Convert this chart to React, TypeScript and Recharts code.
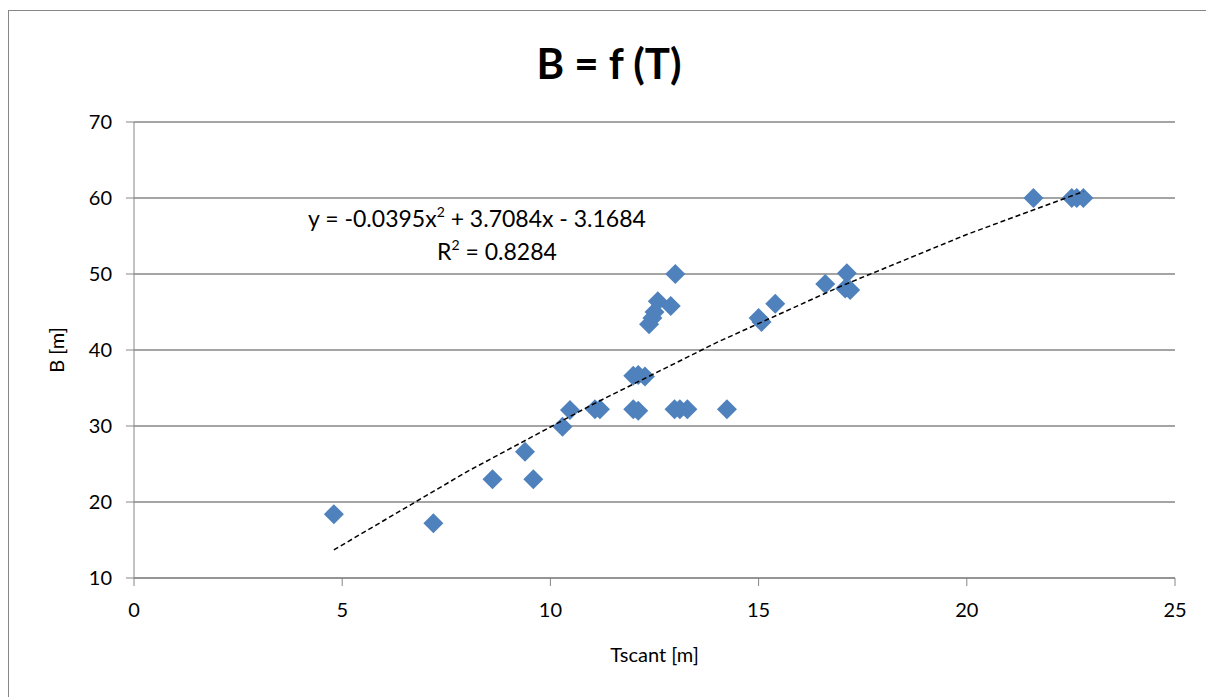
import { ScatterChart, Scatter, XAxis, YAxis, CartesianGrid } from 'recharts';

// Tscant [m] vs B [m]
const tscant = [
  4.8, 7.19, 8.61, 9.39, 9.59, 10.29, 10.47, 11.07, 11.19, 11.99, 12.11,
  12.98, 13.11, 13.29, 14.24, 11.99, 12.11, 12.27, 12.37, 12.45, 12.5, 12.58,
  12.89, 13.0, 15.0, 15.07, 15.4, 16.6, 17.08, 17.12, 17.2, 21.6, 22.52,
  22.64, 22.8,
];
const bWidth = [
  18.4, 17.2, 23.0, 26.6, 23.0, 29.9, 32.1, 32.2, 32.2, 32.2, 32.0,
  32.2, 32.2, 32.2, 32.2, 36.6, 36.7, 36.5, 43.4, 44.2, 45.0, 46.4,
  45.8, 50.0, 44.2, 43.7, 46.1, 48.7, 48.1, 50.1, 47.9, 60.0, 60.0,
  60.0, 60.0,
];

// dashed polynomial trendline
const trendX = [4.8, 8, 11, 14, 17, 20, 22.8];
const trendY = [13.7, 24.0, 32.8, 41.0, 48.45, 55.2, 60.85];

const xTicks = [0, 5, 10, 15, 20, 25];
const yTicks = [10, 20, 30, 40, 50, 60, 70];

const points = tscant.map((x, i) => ({ x, y: bWidth[i] }));
const trend = trendX.map((x, i) => ({ x, y: trendY[i] }));

const FONT = 'Lato, "Liberation Sans", sans-serif';
const AXIS = '#868686';

function Diamond(props: any) {
  const { cx, cy } = props;
  const r = 10;
  return (
    <polygon
      points={`${cx},${cy - r} ${cx + r},${cy} ${cx},${cy + r} ${cx - r},${cy}`}
      fill="#4F81BD"
    />
  );
}

const NoDot = () => <g />;

const supStyle = { fontSize: 14, verticalAlign: 'top', lineHeight: '20px' } as const;

export default function App() {
  return (
    <div
      style={{
        position: 'relative',
        marginTop: 2,
        width: 1200,
        height: 686,
        border: '1px solid #868686',
        background: '#fff',
        fontFamily: FONT,
      }}
    >
      <div
        style={{
          position: 'absolute',
          left: 0,
          right: 0,
          top: 27,
          textAlign: 'center',
          fontSize: 42,
          lineHeight: '50px',
          fontWeight: 700,
          color: '#000',
        }}
      >
        B = f (T)
      </div>
      <div
        style={{
          position: 'absolute',
          left: 0,
          width: 936,
          top: 191,
          textAlign: 'center',
          fontSize: 23,
          lineHeight: '33px',
          color: '#000',
        }}
      >
        <div>
          y = -0.0395x<span style={supStyle}>2</span> + 3.7084x - 3.1684
        </div>
        <div style={{ paddingLeft: 40 }}>
          R<span style={supStyle}>2</span> = 0.8284
        </div>
      </div>
      <ScatterChart width={1200} height={684} margin={{ top: 111, right: 34, bottom: 57, left: 65 }}>
        <CartesianGrid vertical={false} stroke={AXIS} strokeWidth={1.5} />
        <XAxis
          type="number"
          dataKey="x"
          domain={[0, 25]}
          ticks={xTicks}
          height={60}
          stroke={AXIS}
          tickSize={8}
          tickMargin={17}
          tick={{ fontSize: 20, fill: '#000', fontFamily: FONT }}
          label={{ value: 'Tscant [m]', position: 'insideBottom', offset: -24, fontSize: 20, fill: '#000', fontFamily: FONT }}
        />
        <YAxis
          type="number"
          dataKey="y"
          domain={[10, 70]}
          ticks={yTicks}
          width={60}
          stroke={AXIS}
          tickSize={8}
          tickMargin={14}
          tick={{ fontSize: 20, fill: '#000', fontFamily: FONT }}
          label={{ value: 'B [m]', angle: -90, position: 'insideLeft', offset: -17, fontSize: 20, fill: '#000', fontFamily: FONT, style: { textAnchor: 'middle' } }}
        />
        <Scatter data={points} shape={Diamond} isAnimationActive={false} />
        <Scatter
          data={trend}
          line={{ stroke: '#000', strokeWidth: 1.5, strokeDasharray: '5 3' }}
          shape={NoDot}
          isAnimationActive={false}
        />
      </ScatterChart>
    </div>
  );
}
